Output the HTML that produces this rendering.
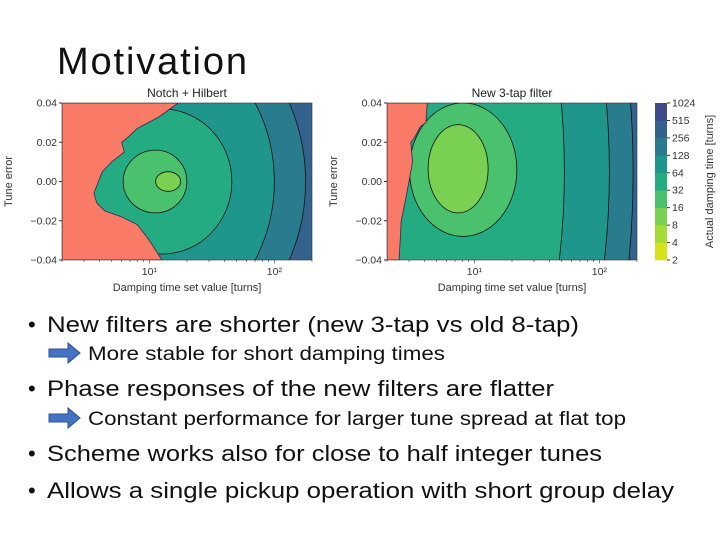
<!DOCTYPE html>
<html><head><meta charset="utf-8"><style>
body{margin:0;background:#fff;width:720px;height:540px;overflow:hidden}
svg{font-family:"Liberation Sans",sans-serif}
</style></head><body>
<svg id="s" width="720" height="540" viewBox="0 0 720 540">
<text x="57" y="74" font-size="38" textLength="190" fill="#111">Motivation</text>
<g id="plots"></g>
<g fill="#111">
<text x="28" y="332" font-size="22">•</text><text x="47" y="332" font-size="22" textLength="532" lengthAdjust="spacingAndGlyphs">New filters are shorter (new 3-tap vs old 8-tap)</text>
<path d="M49 349h19v-6l12 10-12 10v-6h-19z" fill="#4472c4" stroke="#2f528f" stroke-width="1"/>
<text x="88" y="360" font-size="19" textLength="357" lengthAdjust="spacingAndGlyphs">More stable for short damping times</text>
<text x="28" y="396" font-size="22">•</text><text x="47" y="396" font-size="22" textLength="507" lengthAdjust="spacingAndGlyphs">Phase responses of the new filters are flatter</text>
<path d="M49 414h19v-6l12 10-12 10v-6h-19z" fill="#4472c4" stroke="#2f528f" stroke-width="1"/>
<text x="88" y="425" font-size="19" textLength="538" lengthAdjust="spacingAndGlyphs">Constant performance for larger tune spread at flat top</text>
<text x="28" y="461" font-size="22">•</text><text x="47" y="461" font-size="22" textLength="555" lengthAdjust="spacingAndGlyphs">Scheme works also for close to half integer tunes</text>
<text x="28" y="498" font-size="22">•</text><text x="47" y="498" font-size="22" textLength="627" lengthAdjust="spacingAndGlyphs">Allows a single pickup operation with short group delay</text>
</g>
</svg>
<script>
const levels=[2,4,8,16,32,64,128,256,512,1024];
const bandColors=["#d6e21a","#a5db36","#7ad151","#4ac16d","#25ab82","#1f968b","#297b8e","#33638d","#3e4a89","#472d7b"];
// left plot rings (largest first): fill band index, center log10 x, center y, left/right log radius, y radius
const leftBands=[6,5,4,3,2];
const leftCx=[1.0,1.0,1.1,1.05,1.15];
const leftCy=[0,0,0,0,0];
const leftRxL=[1.25,1.0,0.56,0.26,0.1];
const leftRxR=[1.25,1.0,0.56,0.25,0.1];
const leftRy=[0.09,0.075,0.037,0.016,0.005];
const leftOuterBand=7;
const leftSalmonX=[2,17,12,8,6.6,6,6.3,5,4.2,3.6,3.8,4.4,6,8,10,12.6,2];
const leftSalmonY=[0.04,0.04,0.033,0.027,0.022,0.02,0.015,0.01,0.005,-0.006,-0.011,-0.015,-0.018,-0.022,-0.03,-0.04,-0.04];
// right plot rings
const rightBands=[6,5,4,3,2];
const rightCx=[0.95,0.95,0.95,0.91,0.87];
const rightCy=[0.005,0.005,0.005,0.006,0.0065];
const rightRxL=[1.32,1.13,0.77,0.43,0.24];
const rightRxR=[1.32,1.13,0.77,0.43,0.24];
const rightRy=[0.2,0.17,0.14,0.034,0.0225];
const rightOuterBand=7;
const rightSalmonX=[2,4.2,4.1,3.7,3.3,3.1,3.2,3.0,2.8,2.6,2.5,2];
const rightSalmonY=[0.04,0.04,0.03,0.028,0.022,0.02,0.01,0.0,-0.01,-0.02,-0.04,-0.04];
const xTickVals=[10,100], xTickLabels=["10¹","10²"];
const yTickVals=[0.04,0.02,0,-0.02,-0.04], yTickLabels=["0.04","0.02","0.00","−0.02","−0.04"];

const NS="http://www.w3.org/2000/svg";
const root=document.getElementById('plots');
function mk(tag,attrs,parent){const e=document.createElementNS(NS,tag);for(const k in attrs)e.setAttribute(k,attrs[k]);(parent||root).appendChild(e);return e;}

function drawPlot(name,x0,x1,y0,y1,title,bands,cx,cy,rxl,rxr,ry,outer,sx,sy){
  const g=mk('g',{});
  
  
  const lx=v=>x0+(Math.log10(v)-Math.log10(2))/2*(x1-x0);
  const lxLog=l=>x0+(l-Math.log10(2))/2*(x1-x0);
  const ly=v=>y0+(0.04-v)/0.08*(y1-y0);
  const cid=name+'-clip';
  const cp=mk('clipPath',{id:cid},g);mk('rect',{x:x0,y:y0,width:x1-x0,height:y1-y0},cp);
  const inner=mk('g',{'clip-path':'url(#'+cid+')'},g);
  const bg=mk('rect',{x:x0,y:y0,width:x1-x0,height:y1-y0,fill:bandColors[outer]},inner);
  
  
  bands.forEach((b,i)=>{
    const c=lxLog(cx[i]),yc=ly(cy[i]);
    const rl=c-lxLog(cx[i]-rxl[i]), rr=lxLog(cx[i]+rxr[i])-c, r=ly(cy[i]-ry[i])-yc;
    const d=`M${c},${yc-r} A${rr},${r} 0 0 1 ${c},${yc+r} A${rl},${r} 0 0 1 ${c},${yc-r}Z`;
    const p=mk('path',{d:d,fill:bandColors[b],stroke:'#111','stroke-width':0.8},inner);
    
    
  });
  const pts=sx.map((v,i)=>lx(v)+','+ly(sy[i])).join(' ');
  const sal=mk('polygon',{points:pts,fill:'#fa7a68',stroke:'#2a2a55','stroke-width':0.8},inner);
  
  
  mk('rect',{x:x0,y:y0,width:x1-x0,height:y1-y0,fill:'none',stroke:'#333','stroke-width':0.6},g);
  yTickVals.forEach((v,i)=>{const y=ly(v);mk('line',{x1:x0-3,x2:x0,y1:y,y2:y,stroke:'#333'},g);
    const t=mk('text',{x:x0-5,y:y+3.5,'font-size':10.5,'text-anchor':'end',fill:'#333'},g);t.textContent=yTickLabels[i];
    
    });
  for(let d=1;d<=100;d*=10)for(let k=1;k<10;k++){const v=d*k;if(v<2||v>200)continue;const x=lx(v);const major=k===1;
    mk('line',{x1:x,x2:x,y1:y1,y2:y1+(major?3.5:2),stroke:'#333','stroke-width':0.6},g);}
  xTickVals.forEach((v,i)=>{const t=mk('text',{x:lx(v),y:y1+15,'font-size':10.5,'text-anchor':'middle',fill:'#333'},g);t.textContent=xTickLabels[i];
    
    });
  const xt=mk('text',{x:(x0+x1)/2,y:y1+31,'font-size':11,'text-anchor':'middle',fill:'#333'},g);xt.textContent='Damping time set value [turns]';
  
  
  const yt=mk('text',{x:0,y:0,'font-size':11,'text-anchor':'middle',fill:'#333',transform:`translate(${x0-50},${(y0+y1)/2}) rotate(-90)`},g);yt.textContent='Tune error';
  
  
  const tt=mk('text',{x:(x0+x1)/2,y:y0-6,'font-size':12,'text-anchor':'middle',fill:'#222'},g);tt.textContent=title;
  
  
}
drawPlot('notch-hilbert-plot',62,312,103,260,'Notch + Hilbert',leftBands,leftCx,leftCy,leftRxL,leftRxR,leftRy,leftOuterBand,leftSalmonX,leftSalmonY);
drawPlot('three-tap-plot',387,637,103,260,'New 3-tap filter',rightBands,rightCx,rightCy,rightRxL,rightRxR,rightRy,rightOuterBand,rightSalmonX,rightSalmonY);
const cb=mk('g',{});


const cbX=655,cbW=12,cbTop=103,cbBot=260,nb=levels.length-1,bh=(cbBot-cbTop)/nb;
for(let i=0;i<nb;i++){const r=mk('rect',{x:cbX,y:cbBot-(i+1)*bh,width:cbW,height:bh+0.3,fill:bandColors[i]},cb);
  
  }
const cbLabels=["2","4","8","16","32","64","128","256","515","1024"];
levels.forEach((v,i)=>{const y=cbBot-i*bh;mk('line',{x1:cbX+cbW,x2:cbX+cbW+3,y1:y,y2:y,stroke:'#333'},cb);
  const t=mk('text',{x:cbX+cbW+5,y:y+3.5,'font-size':10.5,fill:'#333'},cb);t.textContent=cbLabels[i];
  
  });
const ct=mk('text',{x:0,y:0,'font-size':11,'text-anchor':'middle',fill:'#333',transform:`translate(713,${(cbTop+cbBot)/2}) rotate(-90)`},cb);ct.textContent='Actual damping time [turns]';


</script>
</body></html>
